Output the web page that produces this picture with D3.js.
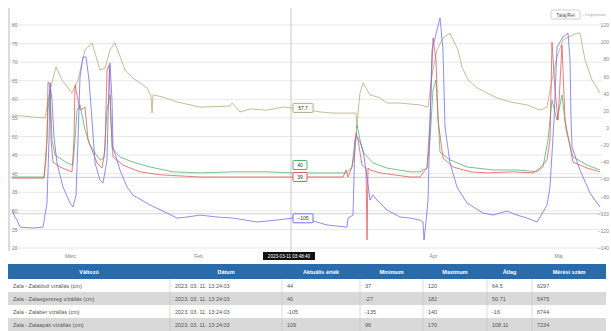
<!DOCTYPE html>
<html>
<head>
<meta charset="utf-8">
<script src="https://cdn.jsdelivr.net/npm/d3@7"></script>
<style>
  html, body { margin: 0; padding: 0; background: #fff; }
  svg { display: block; font-family: "Liberation Sans", Arial, sans-serif; }
</style>
</head>
<body>
<svg id="chart" width="611" height="331"></svg>
<script>
// time in hours from start
const brownSeries = [[0,55.8],[9,55.3],[16.5,55.0],[19,62.5],[22,68.7],[25,65.2],[30,61.7],[33,65.2],[36.5,73.3],[40,75.2],[44,67.9],[46.5,68.4],[49,73.3],[51.5,75.2],[56.5,67.9],[60.5,65.7],[67.5,63.1],[69.5,60.9],[70,56.3],[70.5,61.2],[75.5,60.6],[82.5,59.3],[94,57.9],[109,58.2],[110,59.0],[114,56.6],[119,57.4],[127.5,57.1],[135.5,57.9],[139.5,57.7],[149,57.1],[154,56.6],[160.5,56.3],[170.5,56.3],[172,56.3],[172.5,52.3],[173,56.3],[174,61.7],[175.5,64.4],[179,61.2],[184,60.4],[187.5,59.0],[194,59.0],[204,58.5],[208,57.9],[210,66.5],[212.5,73.3],[215.5,76.5],[219,77.8],[223,73.3],[225,68.7],[228,65.2],[232.5,63.1],[237.5,61.7],[242.5,60.4],[249,59.3],[257.5,58.5],[264,57.1],[267.5,57.9],[270,65.2],[272.5,71.4],[275.5,76.0],[282.5,77.8],[284,77.8],[286.5,70.6],[290,65.2],[294,61.7]];

const greenSeries = [[0,39.1],[16,39.1],[17,43.7],[18,57.1],[19,62.5],[20,49.1],[21.5,45.0],[27.5,42.9],[30.5,42.3],[31.5,49.1],[32.5,57.1],[34,58.5],[36.5,51.8],[39,47.7],[41.5,45.6],[44,43.7],[46,44.2],[47.5,57.1],[49,61.2],[50,46.9],[54,44.5],[60.5,43.1],[69,41.8],[80.5,40.5],[94,40.2],[110.5,40.5],[127.5,40.5],[140.5,40.2],[160.5,40.2],[167.5,40.2],[170,41.8],[171.5,46.4],[172.5,53.1],[174,49.1],[175.5,45.8],[180.5,42.9],[187.5,41.5],[199,40.5],[204,40.5],[207.5,41.5],[209,49.1],[210.5,62.5],[212,65.2],[214,45.8],[219,43.7],[227.5,41.8],[240.5,41.0],[252.5,41.0],[262.5,40.5],[265.5,41.8],[268,49.1],[270,59.8],[272.5,54.4],[275,61.2],[277,51.8],[280.5,44.5],[287.5,42.3],[294,41.0]];

const redSeries = [[0,38.8],[16,38.8],[16.5,42.3],[17.5,49.1],[18,64.7],[19,63.9],[19.5,49.1],[20.5,43.1],[24,41.8],[27.5,41.0],[30,40.5],[31,49.1],[31.5,63.9],[32.5,61.2],[34,57.1],[36.5,57.9],[38,49.1],[42.5,42.9],[45,41.5],[46.5,46.4],[47.5,67.9],[48.5,69.2],[49.5,54.4],[50.5,44.5],[55.5,42.3],[64,40.5],[74,39.7],[94,39.1],[144,39.1],[165.5,39.1],[167,41.0],[168,39.1],[170,41.8],[171,46.4],[172,51.0],[173,49.1],[175,42.3],[177,41.5],[177.5,22.2],[178,41.5],[179,41.0],[184,40.2],[199,39.1],[204,39.1],[205.5,40.2],[207.5,41.5],[209,54.4],[210.5,76.5],[212,70.6],[213,54.4],[215.5,44.2],[220.5,41.8],[229,40.5],[237.5,40.2],[250.5,40.5],[260.5,40.2],[264,41.5],[267.5,43.7],[269,49.1],[270,75.4],[271.5,62.5],[273,54.4],[275,74.6],[276.5,54.4],[280.5,43.1],[287.5,41.5],[294,40.5]];

// right axis
const blueSeries = [[0,-95.7],[1.5,-103.9],[2.5,-107.4],[4,-115.6],[10.5,-116.7],[15.5,-115.6],[17.5,-87.6],[18.5,-14.1],[19,52.4],[20,32.5],[21,-10.6],[22.5,-40.9],[25.5,-68.9],[29,-87.6],[30.5,-92.2],[32,-78.3],[33,-14.1],[34,59.4],[35.5,82.7],[37,82.7],[38.5,55.9],[40,9.2],[41.5,-40.9],[44,-60.8],[45.5,-64.3],[47.5,-37.4],[48.5,55.9],[49,75.7],[50,32.5],[50.5,-22.3],[54,-49.1],[57.5,-68.9],[60.5,-78.3],[69,-89.9],[77.5,-99.2],[82.5,-105.1],[87.5,-103.9],[94,-101.6],[102.5,-103.9],[110.5,-105.1],[122.5,-109.7],[132.5,-107.4],[140.5,-105.1],[149,-107.4],[157.5,-113.2],[167.5,-115.6],[168,-105.1],[170.5,-101.6],[171.5,-14.1],[172.5,-10.6],[174,-16.4],[175.5,-25.8],[177.5,-57.3],[179,-84.1],[180.5,-78.3],[182.5,-84.1],[187.5,-95.7],[194,-103.9],[199,-105.1],[204,-107.4],[205.5,-109.7],[206,-130.7],[207,-109.7],[208,-84.1],[210,90.8],[214,128.2],[215.5,90.8],[216.5,1.0],[219,-40.9],[222.5,-68.9],[227.5,-87.6],[235.5,-99.2],[240.5,-101.6],[247.5,-96.9],[252.5,-101.6],[257.5,-105.1],[262.5,-109.7],[264,-103.9],[267.5,-89.9],[269,-68.9],[271,9.2],[272.5,94.3],[275.5,106.0],[278,110.7],[279,79.2],[279.5,12.7],[280,-22.3],[284,-49.1],[289,-75.9],[294,-92.2]];

const leftTicks = d3.range(20, 81, 5);
const rightTicks = d3.range(-140, 121, 20);
const xTickHours = [29, 93, 210.5, 273];
const xTickLabels = ["Márc", "Feb", "Ápr", "Máj"];
const leftPlotLine = 39;
const rightPlotLine = -100;

const crossHour = 139.5;
const crossLabel = "2023-03-11 03:48:40";

const legendNames = ["Talaj/Rel", "Légnyomás"];

const tableHeaders = ["Változó", "Dátum", "Aktuális érték", "Minimum", "Maximum", "Átlag", "Mérési szám"];
const rowNames = ["Zala - Zalalövő vízállás (cm)", "Zala - Zalaegerszeg vízállás (cm)", "Zala - Zalabér vízállás (cm)", "Zala - Zalaapáti vízállás (cm)"];
const rowDates = ["2023. 03. 11. 13:24:03", "2023. 03. 11. 13:24:03", "2023. 03. 11. 13:24:03", "2023. 03. 11. 13:24:03"];
const rowCurrent = ["44", "40", "-105", "109"];
const rowMin = ["37", "-27", "-135", "96"];
const rowMax = ["120", "182", "140", "170"];
const rowAvg = ["64.5", "50.71", "-16", "108.11"];
const rowCount = ["6297", "5475", "6744", "7234"];

const svg = d3.select("#chart");

const x = d3.scaleLinear().domain([0, 295]).range([12, 602]);
const yL = d3.scaleLinear().domain([20, 80]).range([248, 25]);
const yR = d3.scaleLinear().domain([-140, 120]).range([248, 25]);

// grid
svg.append("g").selectAll("line").data(leftTicks).join("line")
    .attr("x1", 10).attr("x2", 602)
    .attr("y1", d => yL(d)).attr("y2", d => yL(d))
    .attr("stroke", "#e8e8e8").attr("stroke-width", 1);

svg.append("line").attr("x1", 10).attr("x2", 602)
    .attr("y1", yL(leftPlotLine)).attr("y2", yL(leftPlotLine))
    .attr("stroke", "#cfcfcf");
svg.append("line").attr("x1", 10).attr("x2", 602)
    .attr("y1", yR(rightPlotLine)).attr("y2", yR(rightPlotLine))
    .attr("stroke", "#cfcfcf");

svg.append("line").attr("x1", 9).attr("x2", 9).attr("y1", 8).attr("y2", 251)
    .attr("stroke", "#dcdcdc").attr("stroke-width", 2);

// axes
let axL = svg.append("g").attr("transform", "translate(10,0)")
    .call(d3.axisRight(yL).tickValues(leftTicks).tickSize(0).tickPadding(2));
let axR = svg.append("g").attr("transform", "translate(609,0)")
    .call(d3.axisLeft(yR).tickValues(rightTicks).tickSize(0).tickPadding(0));
let axX = svg.append("g").attr("transform", "translate(0,252)")
    .call(d3.axisBottom(x).tickValues(xTickHours).tickFormat((d, i) => xTickLabels[i]).tickSize(0).tickPadding(2));
[axL, axR, axX].forEach(a => {
    a.select(".domain").remove();
    a.selectAll("text").attr("font-size", 5).attr("fill", "#888")
        .attr("font-family", "Liberation Sans, Arial, sans-serif");
});

// crosshair
svg.append("line").attr("x1", x(crossHour)).attr("x2", x(crossHour))
    .attr("y1", 8).attr("y2", 252).attr("stroke", "#c8c8c8");

svg.append("clipPath").attr("id", "plot").append("rect")
    .attr("x", 10).attr("y", 6).attr("width", 592).attr("height", 246);

const series = [
    {data: brownSeries, color: "#b9aa7c", y: yL, fmt: d3.format(".1f")},
    {data: greenSeries, color: "#52b56e", y: yL, fmt: d3.format(".0f")},
    {data: redSeries, color: "#e25c5c", y: yL, fmt: d3.format(".0f")},
    {data: blueSeries, color: "#7070f2", y: yR, fmt: d3.format(".0f")}
];

const lines = svg.append("g").attr("clip-path", "url(#plot)");
series.forEach(s => {
    let line = d3.line().x(d => x(d[0])).y(d => s.y(d[1]));
    lines.append("path").datum(s.data)
        .attr("d", line)
        .attr("fill", "none")
        .attr("stroke", s.color)
        .attr("stroke-width", 0.8);
});

// value at crosshair
function valueAt(data, t) {
    let i = d3.bisector(d => d[0]).left(data, t);
    if (i <= 0) return data[0][1];
    let a = data[i - 1], b = data[i];
    return a[1] + (b[1] - a[1]) * (t - a[0]) / (b[0] - a[0]);
}

let boxes = series.map(s => {
    let v = valueAt(s.data, crossHour);
    return {color: s.color, text: s.fmt(v), cy: s.y(v)};
});
// push overlapping boxes apart
let sorted = boxes.slice().sort((a, b) => b.cy - a.cy);
for (let i = 1; i < sorted.length; i++) {
    if (sorted[i - 1].cy - sorted[i].cy < 12) sorted[i].cy = sorted[i - 1].cy - 12;
}

let tip = svg.append("g").selectAll("g").data(boxes).join("g")
    .attr("transform", d => `translate(${x(crossHour) + 2},${d.cy - 4.5})`);
tip.append("rect")
    .attr("width", d => d.text.length * 3 + 8).attr("height", 9).attr("rx", 1)
    .attr("fill", "#fff").attr("stroke", d => d.color).attr("stroke-width", 1);
tip.append("text")
    .attr("x", d => (d.text.length * 3 + 8) / 2).attr("y", 6.3)
    .attr("text-anchor", "middle").attr("font-size", 5).attr("fill", "#333")
    .text(d => d.text);

// date flag under crosshair
let flag = svg.append("g").attr("transform", `translate(${x(crossHour) - 28},252)`);
flag.append("rect").attr("width", 52).attr("height", 8).attr("fill", "#111");
flag.append("text").attr("x", 26).attr("y", 5.8).attr("text-anchor", "middle")
    .attr("font-size", 4.6).attr("fill", "#fff").text(crossLabel);

// legend
let leg = svg.append("g");
leg.append("rect").attr("x", 551).attr("y", 10).attr("width", 29).attr("height", 9).attr("rx", 1.5)
    .attr("fill", "#fff").attr("stroke", "#cfcfcf");
leg.append("text").attr("x", 565.5).attr("y", 16.5).attr("text-anchor", "middle")
    .attr("font-size", 4.8).attr("fill", "#555").text(legendNames[0]);
leg.append("text").attr("x", 582).attr("y", 16.3)
    .attr("font-size", 4).attr("fill", "#aaa").text("– " + legendNames[1]);

// table
const colX = [8, 170, 282, 360, 423, 487, 532, 606];
const headY = 264, headH = 15, rowH = 13;
const rows = rowNames.map((n, i) => [n, rowDates[i], rowCurrent[i], rowMin[i], rowMax[i], rowAvg[i], rowCount[i]]);

let tbl = svg.append("g");
tbl.append("rect").attr("x", colX[0]).attr("y", headY)
    .attr("width", colX[7] - colX[0]).attr("height", headH).attr("fill", "#2a6cab");
tbl.append("g").selectAll("text").data(tableHeaders).join("text")
    .attr("x", (d, i) => (colX[i] + colX[i + 1]) / 2).attr("y", headY + 9.5)
    .attr("text-anchor", "middle").attr("font-size", 5.5).attr("font-weight", "bold")
    .attr("fill", "#fff").text(d => d);

let tr = tbl.append("g").selectAll("g").data(rows).join("g")
    .attr("transform", (d, i) => `translate(0,${headY + headH + i * rowH})`);
tr.append("rect").attr("x", colX[0]).attr("width", colX[7] - colX[0]).attr("height", rowH)
    .attr("fill", (d, i) => i % 2 ? "#d9d9d9" : "#fff");
tr.selectAll("line").data(colX.slice(1, 7)).join("line")
    .attr("x1", d => d).attr("x2", d => d).attr("y1", 0).attr("y2", rowH)
    .attr("stroke", "#c4c4c4").attr("stroke-width", 0.6);
tr.selectAll("text").data(d => d).join("text")
    .attr("x", (d, i) => colX[i] + 5).attr("y", 8.5)
    .attr("font-size", 5.5).attr("fill", "#555").text(d => d);
</script>
</body>
</html>
